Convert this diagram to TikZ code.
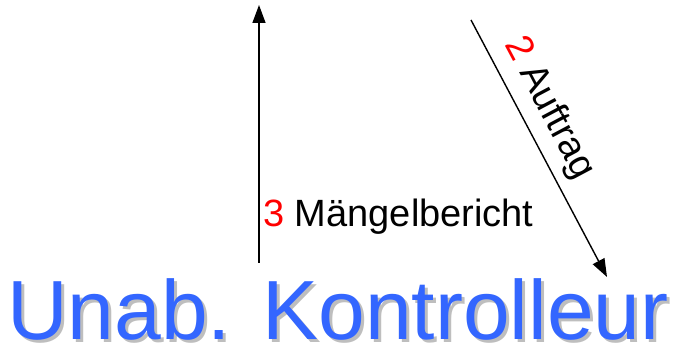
\documentclass[tikz,border=0pt]{standalone}
\usepackage{fontspec}
\setmainfont{Liberation Sans}
\usetikzlibrary{arrows.meta}
\definecolor{titleblue}{RGB}{51,102,255}
\definecolor{shadowgray}{RGB}{190,190,190}
\begin{document}
\begin{tikzpicture}[x=1pt,y=1pt,
  conn/.style={line width=1.4pt,-{Triangle[length=18pt,width=13pt]}},
  lbl/.style={inner sep=0pt,font=\fontsize{38}{40}\selectfont},
  big/.style={inner sep=0pt,anchor=base west,font=\fontsize{84}{90}\selectfont}]
\useasboundingbox (0,0) rectangle (679,347);
\coordinate (v0) at (259,84);
\coordinate (v1) at (259,342);
\coordinate (d0) at (471,327);
\coordinate (d1) at (607,70);
\draw[conn] (v0) -- (v1);
\draw[conn] (d0) -- (d1);
\node[lbl,anchor=base west] (m) at (263,120) {\textcolor{red}{3} Mängelbericht};
\node[lbl,rotate=-62] (a) at (549,239) {\textcolor{red}{2} Auftrag};
\node[big,text=shadowgray] (ts) at (10,4) {Unab. Kontrolleur};
\node[big,text=titleblue] (t) at (7,7) {Unab. Kontrolleur};
\end{tikzpicture}
\end{document}
